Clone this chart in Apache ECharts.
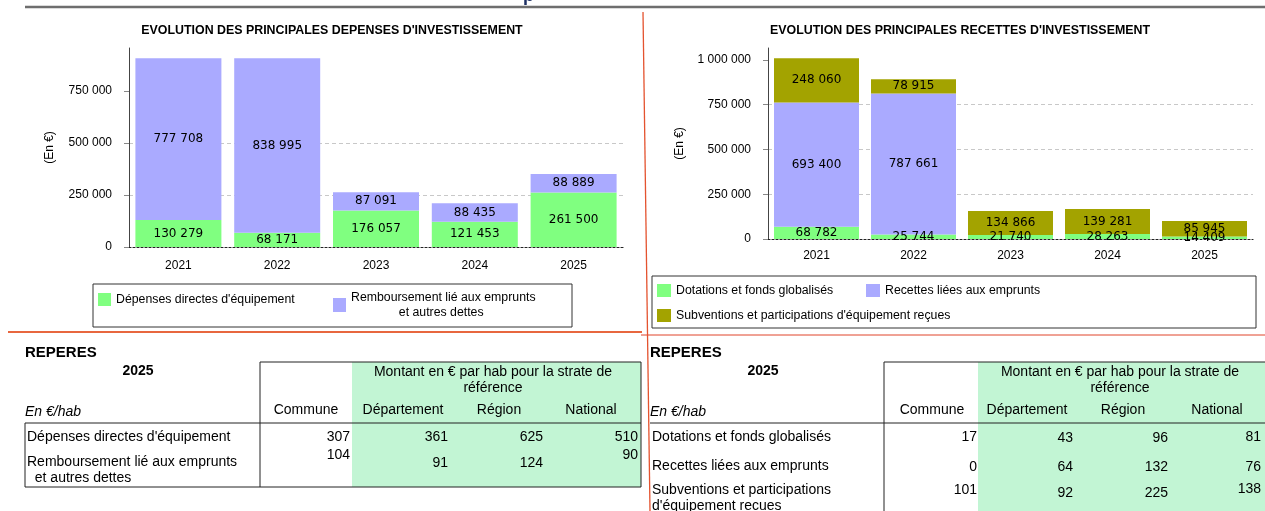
<!DOCTYPE html>
<html>
<head>
<meta charset="utf-8">
<title>Investissement</title>
<script src="https://cdn.jsdelivr.net/npm/echarts@6.0.0/dist/echarts.min.js"></script>
<style>
  body { margin: 0; background: #fff; font-family: "Liberation Sans", Arial, sans-serif; }
  #page { position: relative; width: 1265px; height: 511px; overflow: hidden; }
  #decor, #chart, #over { position: absolute; left: 0; top: 0; width: 1265px; height: 511px; }
  .tx { position: absolute; white-space: pre; font-size: 14px; line-height: 16px; color: #000; }
</style>
</head>
<body>
<div id="page">
  <svg id="decor" width="1265" height="511"></svg>
  <div id="chart"></div>
  <div id="over"></div>
</div>
<script>
// graphiques
var years = ['2021', '2022', '2023', '2024', '2025'];
var depTitle = "EVOLUTION DES PRINCIPALES DEPENSES D'INVESTISSEMENT";
var recTitle = "EVOLUTION DES PRINCIPALES RECETTES D'INVESTISSEMENT";
var depNames = ["Dépenses directes d'équipement", 'Remboursement lié aux emprunts\n              et autres dettes'];
var depEquip = [130279, 68171, 176057, 121453, 261500];
var depRemb = [777708, 838995, 87091, 88435, 88889];
var recNames = ['Dotations et fonds globalisés', 'Recettes liées aux emprunts', "Subventions et participations d'équipement reçues"];
var recDot = [68782, 25744, 21740, 28263, 14409];
var recEmp = [693400, 787661, 0, 0, 0];
var recSub = [248060, 78915, 134866, 139281, 85945];
var depTicks = [0, 250000, 500000, 750000];
var recTicks = [0, 250000, 500000, 750000, 1000000];

// tableaux "repères"
var repYear = '2025';
var repCols = ['Commune', 'Département', 'Région', 'National'];
var repHead = ['Montant en € par hab pour la strate de', 'référence'];
var depRowLabels = [["Dépenses directes d'équipement"], ['Remboursement lié aux emprunts', '  et autres dettes']];
var depPerHab = [[307, 361, 625, 510], [104, 91, 124, 90]];
var recRowLabels = [['Dotations et fonds globalisés'], ['Recettes liées aux emprunts'], ['Subventions et participations', "d'équipement recues"]];
var recPerHab = [[17, 43, 96, 81], [0, 64, 132, 76], [101, 92, 225, 138]];

var GREEN = '#80ff80', PURPLE = '#aaaaff', OLIVE = '#a3a300', MINT = '#c2f5d4';
var FONT = 'Liberation Sans';

function fmt(v) {
  return String(v).replace(/\B(?=(\d{3})+(?!\d))/g, ' ');
}

var barLabel = {
  show: true, position: 'inside', color: '#000', fontFamily: 'DejaVu Sans', fontSize: 12,
  formatter: function (p) { return p.value ? fmt(p.value) : ''; }
};

function xAxisFor(gi, margin) {
  return {
    type: 'category', gridIndex: gi, data: years,
    axisLine: { lineStyle: { color: '#222', type: [2, 2], width: 1.2 } },
    axisTick: { alignWithLabel: true, length: 4, lineStyle: { color: '#222' } },
    axisLabel: { color: '#000', fontSize: 12, fontFamily: FONT, margin: margin }
  };
}

function yAxisFor(gi, max, ticks, nameGap) {
  return {
    type: 'value', gridIndex: gi, min: 0, max: max, interval: 250000,
    name: '(En €)', nameLocation: 'middle', nameRotate: 90, nameGap: nameGap,
    nameTextStyle: { color: '#000', fontSize: 12, fontFamily: FONT },
    axisLine: { show: true, lineStyle: { color: '#444' } },
    axisTick: { show: true, length: 5, customValues: ticks, lineStyle: { color: '#888' } },
    axisLabel: { customValues: ticks, formatter: fmt, margin: 17, color: '#000', fontSize: 12, fontFamily: FONT },
    splitLine: { show: true, showMinLine: false, showMaxLine: false, lineStyle: { color: '#c8c8c8', type: [4, 3] } }
  };
}

function bar(name, data, stack, gi, color, width) {
  return {
    name: name, type: 'bar', stack: stack, data: data, xAxisIndex: gi, yAxisIndex: gi,
    barWidth: width, itemStyle: { color: color }, label: barLabel
  };
}

var legendText = { color: '#000', fontSize: 12.3, fontFamily: FONT, lineHeight: 15 };
var titleText = { fontSize: 12.4, fontWeight: 'bold', color: '#000', fontFamily: FONT };

var chart = echarts.init(document.getElementById('chart'));
chart.setOption({
  animation: false,
  title: [
    { text: depTitle, left: 332, top: 25, textAlign: 'center', padding: 0, textStyle: titleText },
    { text: recTitle, left: 960, top: 25, textAlign: 'center', padding: 0, textStyle: titleText }
  ],
  grid: [
    { left: 129, top: 48, width: 494, height: 199 },
    { left: 768, top: 48, width: 485, height: 191 }
  ],
  xAxis: [xAxisFor(0, 13), xAxisFor(1, 11)],
  yAxis: [yAxisFor(0, 956700, depTicks, 73), yAxisFor(1, 1067000, recTicks, 82)],
  legend: [
    {
      // cadre + 2e élément (deux lignes)
      left: 93, top: 284, padding: [6, 5, 7, 240], itemWidth: 13, itemHeight: 14,
      icon: 'rect', borderColor: '#333', borderWidth: 1, backgroundColor: 'transparent',
      textStyle: legendText,
      data: [{ name: depNames[1], textStyle: { width: 216 } }]
    },
    {
      left: 98, top: 292, padding: 0, itemWidth: 13, itemHeight: 13,
      icon: 'rect', textStyle: legendText,
      data: [{ name: depNames[0] }]
    },
    {
      left: 652, top: 276, width: 600, padding: [7, 5, 5, 5], itemWidth: 14, itemHeight: 13, itemGap: 10,
      icon: 'rect', borderColor: '#333', borderWidth: 1, backgroundColor: '#fff',
      textStyle: legendText,
      data: [
        { name: recNames[0], textStyle: { width: 180 } },
        { name: recNames[1], textStyle: { width: 366 } },
        { name: recNames[2] }
      ]
    }
  ],
  series: [
    bar(depNames[0], depEquip, 'dep', 0, GREEN, 86),
    bar(depNames[1], depRemb, 'dep', 0, PURPLE, 86),
    bar(recNames[0], recDot, 'rec', 1, GREEN, 85),
    bar(recNames[1], recEmp, 'rec', 1, PURPLE, 85),
    bar(recNames[2], recSub, 'rec', 1, OLIVE, 85)
  ]
});

// décor et tableaux
var svg = document.getElementById('decor');
var over = document.getElementById('over');
var NS = 'http://www.w3.org/2000/svg';

function el(tag, attrs) {
  var e = document.createElementNS(NS, tag);
  for (var k in attrs) e.setAttribute(k, attrs[k]);
  svg.appendChild(e);
  return e;
}
function rect(x, y, w, h, color) { el('rect', { x: x, y: y, width: w, height: h, fill: color }); }
function line(x1, y1, x2, y2, color, w) {
  el('line', { x1: x1, y1: y1, x2: x2, y2: y2, stroke: color, 'stroke-width': w || 1 });
}
function text(x, y, s, align, css) {
  var d = document.createElement('div');
  d.className = 'tx';
  d.textContent = s;
  if (align === 'r') d.style.right = (1265 - x) + 'px';
  else if (align === 'c') { d.style.left = (x - 200) + 'px'; d.style.width = '400px'; d.style.textAlign = 'center'; }
  else d.style.left = x + 'px';
  d.style.top = (y - 8) + 'px';
  if (css) for (var k in css) d.style[k] = css[k];
  over.appendChild(d);
}

// traits de séparation
line(25, 7, 1265, 7, '#6e6e6e', 2.5);
line(8, 332, 642, 332, '#e8673f', 2);
line(641, 335, 1265, 335, '#e0452a', 1);
line(643, 12, 650, 511, '#e4532f', 1.3);
text(523, -6, 'p', 'l', { fontSize: '18px', lineHeight: '18px', fontWeight: 'bold', color: '#1d2f63' });

function repTable(o) {
  rect(o.green, 362, o.right - o.green, o.bottom - 362, MINT);
  line(o.box, 362, o.right, 362, '#222');
  line(o.box, 362, o.box, o.bottom, '#222');
  line(o.left, 423, o.right, 423, '#222');
  if (o.closed) {
    line(o.left, 423, o.left, o.bottom, '#222');
    line(o.left, o.bottom, o.right, o.bottom, '#222');
    line(o.right, 362, o.right, o.bottom, '#222');
  }
  text(o.left, 352, 'REPERES', 'l', { fontWeight: 'bold', fontSize: '15px' });
  text(o.yearX, 370, repYear, 'c', { fontWeight: 'bold' });
  text(o.left, 411, 'En €/hab', 'l', { fontStyle: 'italic' });
  text(o.headX, 371, repHead[0], 'c');
  text(o.headX, 387, repHead[1], 'c');
  repCols.forEach(function (c, i) { text(o.colX[i], 409, c, 'c'); });
  o.labels.forEach(function (lines, r) {
    lines.forEach(function (s, k) { text(o.left + 2, o.labelY[r][k], s, 'l'); });
    o.values[r].forEach(function (v, i) { text(o.valX[i], o.valY[r][i], String(v), 'r'); });
  });
}

repTable({
  left: 25, right: 641, box: 260, green: 352, bottom: 487, closed: true,
  yearX: 138, headX: 493, colX: [306, 403, 499, 591], valX: [350, 448, 543, 638],
  labels: depRowLabels, values: depPerHab,
  labelY: [[436], [461, 477]],
  valY: [[436, 436, 436, 436], [454, 462, 462, 454]]
});

repTable({
  left: 650, right: 1265, box: 884, green: 978, bottom: 511, closed: false,
  yearX: 763, headX: 1120, colX: [932, 1027, 1123, 1217], valX: [977, 1073, 1168, 1261],
  labels: recRowLabels, values: recPerHab,
  labelY: [[436], [465], [489, 505]],
  valY: [[436, 437, 437, 436], [466, 466, 466, 466], [489, 492, 492, 488]]
});
</script>
</body>
</html>
